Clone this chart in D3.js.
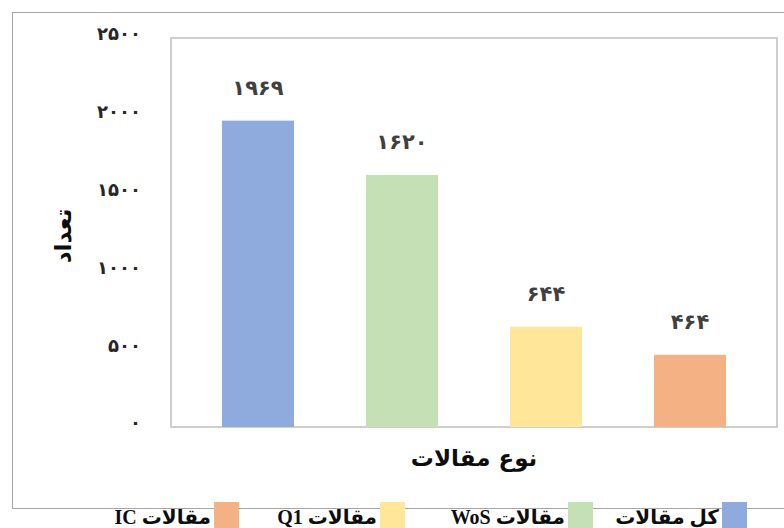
<!DOCTYPE html>
<html>
<head>
<meta charset="utf-8">
<script src="https://cdn.jsdelivr.net/npm/d3@7"></script>
<style>
  body { margin: 0; background: #fff; }
  svg { display: block; }
</style>
</head>
<body>
<div id="vis"></div>
<script>
const FRAME_WIDTH = 784;
const FRAME_HEIGHT = 528;
const PLOT = {left: 171, right: 777, top: 38, bottom: 427};

// data
const categories = ["کل مقالات", "مقالات WoS", "مقالات Q1", "مقالات IC"];
const counts = [1969, 1620, 644, 464];
const colors = ["#8faadc", "#c5e0b4", "#ffe699", "#f4b183"];
const yTicks = [0, 500, 1000, 1500, 2000, 2500];

// turn latin digits into persian ones
const faDigits = "۰۱۲۳۴۵۶۷۸۹";
const toFa = (n) => String(n).replace(/[0-9]/g, (d) => faDigits[+d]);

const FONT = "'DejaVu Sans', sans-serif";
const LEGEND_FONT = "'Liberation Serif', 'DejaVu Sans', serif";

const svg = d3.select("#vis")
  .append("svg")
    .attr("width", FRAME_WIDTH)
    .attr("height", FRAME_HEIGHT);

// outer chart border
svg.append("rect")
    .attr("x", 12.5)
    .attr("y", 12.5)
    .attr("width", 790)
    .attr("height", 496)
    .attr("fill", "none")
    .attr("stroke", "#a6a6a6")
    .attr("stroke-width", 1);

const X_SCALE = d3.scaleBand()
  .domain(categories)
  .range([PLOT.left, PLOT.right])
  .paddingInner(0.5)
  .paddingOuter(0.354);

const Y_SCALE = d3.scaleLinear()
  .domain([0, 2500])
  .range([PLOT.bottom, PLOT.top]);

// plot area box
svg.append("rect")
    .attr("x", PLOT.left)
    .attr("y", PLOT.top)
    .attr("width", PLOT.right - PLOT.left)
    .attr("height", PLOT.bottom - PLOT.top)
    .attr("fill", "none")
    .attr("stroke", "#bfbfbf")
    .attr("stroke-width", 1.5);

// y axis labels only (no line, no ticks)
const yAxis = svg.append("g")
    .attr("transform", "translate(" + (PLOT.left - 27) + ",0)")
    .call(d3.axisLeft(Y_SCALE).tickValues(yTicks).tickFormat(toFa).tickSize(0));
yAxis.select(".domain").remove();
yAxis.selectAll("text")
    .attr("dy", "0.1em")
    .attr("font-family", FONT)
    .attr("font-size", 18)
    .attr("font-weight", "bold")
    .attr("fill", "#262626");

// bars
svg.selectAll(".bar")
  .data(counts)
  .enter()
  .append("rect")
    .attr("class", "bar")
    .attr("x", (d, i) => X_SCALE(categories[i]))
    .attr("y", (d) => Y_SCALE(d))
    .attr("width", X_SCALE.bandwidth())
    .attr("height", (d) => Y_SCALE(0) - Y_SCALE(d))
    .attr("fill", (d, i) => colors[i]);

// value labels
svg.selectAll(".val")
  .data(counts)
  .enter()
  .append("text")
    .attr("class", "val")
    .attr("x", (d, i) => X_SCALE(categories[i]) + X_SCALE.bandwidth() / 2)
    .attr("y", (d) => Y_SCALE(d) - 26)
    .attr("text-anchor", "middle")
    .attr("font-family", FONT)
    .attr("font-size", 21)
    .attr("font-weight", "bold")
    .attr("fill", "#404040")
    .text((d) => toFa(d));

// axis titles
svg.append("text")
    .attr("x", (PLOT.left + PLOT.right) / 2)
    .attr("y", 466)
    .attr("text-anchor", "middle")
    .attr("font-family", FONT)
    .attr("font-size", 23)
    .attr("font-weight", "bold")
    .attr("fill", "#0d0d0d")
    .text("نوع مقالات");

svg.append("text")
    .attr("transform", "translate(71,236) rotate(-90)")
    .attr("text-anchor", "middle")
    .attr("font-family", FONT)
    .attr("font-size", 23)
    .attr("font-weight", "bold")
    .attr("fill", "#0d0d0d")
    .text("تعداد");

// legend, right to left
const legendX = [722, 568, 380, 214];
const legend = svg.selectAll(".leg")
  .data(categories)
  .enter()
  .append("g")
    .attr("class", "leg")
    .attr("transform", (d, i) => "translate(" + legendX[i] + ",502)");

legend.append("rect")
    .attr("width", 25)
    .attr("height", 30)
    .attr("fill", (d, i) => colors[i]);

legend.append("text")
    .attr("x", -3)
    .attr("y", 22)
    .attr("direction", "rtl")
    .attr("text-anchor", "start")
    .attr("font-family", LEGEND_FONT)
    .attr("font-size", 20)
    .attr("font-weight", "bold")
    .attr("fill", "#0d0d0d")
    .text((d) => d);
</script>
</body>
</html>
